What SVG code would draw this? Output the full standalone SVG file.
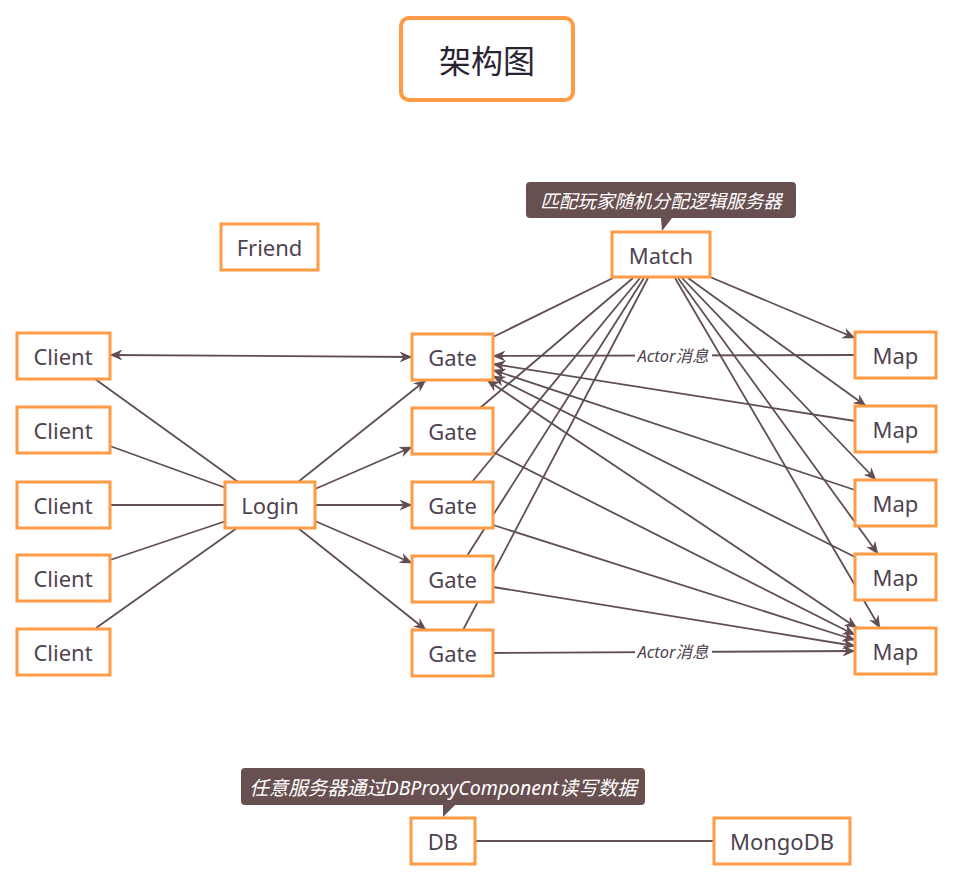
<svg xmlns="http://www.w3.org/2000/svg" width="953" height="882" viewBox="0 0 953 882">
<defs>
<style>
.node rect{fill:#fff;stroke:#ff9a45;stroke-width:3}
.node text{font-family:"Noto Sans","Noto Sans CJK SC",sans-serif;font-size:22px;fill:#4f4350;text-anchor:middle;dominant-baseline:central}
.conn line{stroke:#614e52;stroke-width:1.8;fill:none}
.lbl{font-family:"Noto Sans","Noto Sans CJK SC",sans-serif;font-size:16.5px;font-style:italic;fill:#4f4350;text-anchor:middle;dominant-baseline:central}
.callout path{fill:#684f50}
.callout text{font-family:"Noto Sans","Noto Sans CJK SC",sans-serif;font-size:18.6px;font-style:italic;fill:#fff;text-anchor:middle;dominant-baseline:central}
</style>
<marker id="arr" viewBox="0 0 13 11" refX="12.5" refY="5.5" markerWidth="13" markerHeight="11" markerUnits="userSpaceOnUse" orient="auto-start-reverse">
<path d="M0,0 L13,5.5 L0,11 L4,5.5 z" fill="#614e52"/>
</marker>
</defs>
<rect width="953" height="882" fill="#fff"/>

<g id="title" class="node">
<rect x="401" y="18" width="172" height="82" rx="8" style="stroke-width:4"/>
<text x="487" y="59" style="font-size:32px;fill:#2b2430;font-family:'Noto Sans CJK SC',sans-serif">架构图</text>
</g>

<g id="connectors" class="conn">
<line x1="110" y1="355" x2="412" y2="357" marker-start="url(#arr)" marker-end="url(#arr)"/>
<line x1="95" y1="379" x2="238" y2="482"/>
<line x1="110" y1="446" x2="226" y2="488"/>
<line x1="110" y1="505" x2="226" y2="505"/>
<line x1="110" y1="560" x2="226" y2="521"/>
<line x1="96" y1="628" x2="237" y2="528"/>
<line x1="298" y1="482" x2="426" y2="380" marker-end="url(#arr)"/>
<line x1="315" y1="489" x2="412" y2="447" marker-end="url(#arr)"/>
<line x1="315" y1="505" x2="412" y2="505" marker-end="url(#arr)"/>
<line x1="315" y1="521" x2="412" y2="563" marker-end="url(#arr)"/>
<line x1="298" y1="528" x2="426" y2="630" marker-end="url(#arr)"/>
<line x1="613" y1="278" x2="493" y2="337"/>
<line x1="633" y1="278" x2="480" y2="408"/>
<line x1="640" y1="278" x2="472" y2="482"/>
<line x1="644" y1="278" x2="467" y2="556"/>
<line x1="648" y1="278" x2="463" y2="630"/>
<line x1="710" y1="277" x2="855" y2="338" marker-end="url(#arr)"/>
<line x1="688" y1="278" x2="866" y2="406" marker-end="url(#arr)"/>
<line x1="682" y1="278" x2="876" y2="480" marker-end="url(#arr)"/>
<line x1="678" y1="278" x2="878" y2="554" marker-end="url(#arr)"/>
<line x1="675" y1="278" x2="880" y2="628" marker-end="url(#arr)"/>
<line x1="855" y1="355" x2="493" y2="356" marker-end="url(#arr)"/>
<line x1="855" y1="421" x2="493" y2="364" marker-end="url(#arr)"/>
<line x1="855" y1="490" x2="493" y2="370" marker-end="url(#arr)"/>
<line x1="855" y1="557" x2="493" y2="376" marker-end="url(#arr)"/>
<line x1="487" y1="380" x2="857" y2="628" marker-start="url(#arr)" marker-end="url(#arr)"/>
<line x1="493" y1="452" x2="855" y2="635" marker-end="url(#arr)"/>
<line x1="493" y1="525" x2="855" y2="640" marker-end="url(#arr)"/>
<line x1="493" y1="587" x2="855" y2="646" marker-end="url(#arr)"/>
<line x1="493" y1="653" x2="855" y2="651" marker-end="url(#arr)"/>
<line x1="475" y1="841" x2="714" y2="841"/>
</g>
<g id="edge-labels">
<rect x="635" y="346" width="77" height="18" fill="#fff"/>
<text class="lbl" x="673" y="355">Actor消息</text>
<rect x="635" y="642" width="77" height="18" fill="#fff"/>
<text class="lbl" x="673" y="651">Actor消息</text>
</g>

<g id="callout-match" class="callout">
<path d="M530,182 H792 Q796,182 796,186 V214 Q796,218 792,218 H672 L662,231 L661,218 H530 Q526,218 526,214 V186 Q526,182 530,182 Z"/>
<text x="661" y="200">匹配玩家随机分配逻辑服务器</text>
</g>
<g id="callout-db" class="callout">
<path d="M245,768 H641 Q645,768 645,772 V801 Q645,805 641,805 H455 L443,817 L443,805 H245 Q241,805 241,801 V772 Q241,768 245,768 Z"/>
<text x="443" y="787" style="font-size:19.5px">任意服务器通过DBProxyComponent读写数据</text>
</g>

<g id="friend" class="node"><rect x="221" y="224" width="97" height="46"/><text x="269.5" y="247">Friend</text></g>
<g id="match" class="node"><rect x="612" y="232" width="98" height="45"/><text x="661" y="255">Match</text></g>

<g id="client1" class="node"><rect x="17" y="333" width="93" height="46"/><text x="63" y="356">Client</text></g>
<g id="client2" class="node"><rect x="17" y="407" width="93" height="46"/><text x="63" y="430">Client</text></g>
<g id="client3" class="node"><rect x="17" y="482" width="93" height="46"/><text x="63" y="505">Client</text></g>
<g id="client4" class="node"><rect x="17" y="555" width="93" height="46"/><text x="63" y="578">Client</text></g>
<g id="client5" class="node"><rect x="17" y="629" width="93" height="46"/><text x="63" y="652">Client</text></g>

<g id="login" class="node"><rect x="225" y="482" width="90" height="46"/><text x="270" y="505">Login</text></g>

<g id="gate1" class="node"><rect x="412" y="334" width="81" height="46"/><text x="452.5" y="357">Gate</text></g>
<g id="gate2" class="node"><rect x="412" y="408" width="81" height="46"/><text x="452.5" y="431">Gate</text></g>
<g id="gate3" class="node"><rect x="412" y="482" width="81" height="46"/><text x="452.5" y="505">Gate</text></g>
<g id="gate4" class="node"><rect x="412" y="556" width="81" height="46"/><text x="452.5" y="579">Gate</text></g>
<g id="gate5" class="node"><rect x="412" y="630" width="81" height="46"/><text x="452.5" y="653">Gate</text></g>

<g id="map1" class="node"><rect x="855" y="332" width="81" height="46"/><text x="895.5" y="355">Map</text></g>
<g id="map2" class="node"><rect x="855" y="406" width="81" height="46"/><text x="895.5" y="429">Map</text></g>
<g id="map3" class="node"><rect x="855" y="480" width="81" height="46"/><text x="895.5" y="503">Map</text></g>
<g id="map4" class="node"><rect x="855" y="554" width="81" height="46"/><text x="895.5" y="577">Map</text></g>
<g id="map5" class="node"><rect x="855" y="628" width="81" height="46"/><text x="895.5" y="651">Map</text></g>

<g id="db" class="node"><rect x="411" y="818" width="64" height="46"/><text x="443" y="841">DB</text></g>
<g id="mongodb" class="node"><rect x="714" y="818" width="136" height="46"/><text x="782" y="841">MongoDB</text></g>
</svg>
